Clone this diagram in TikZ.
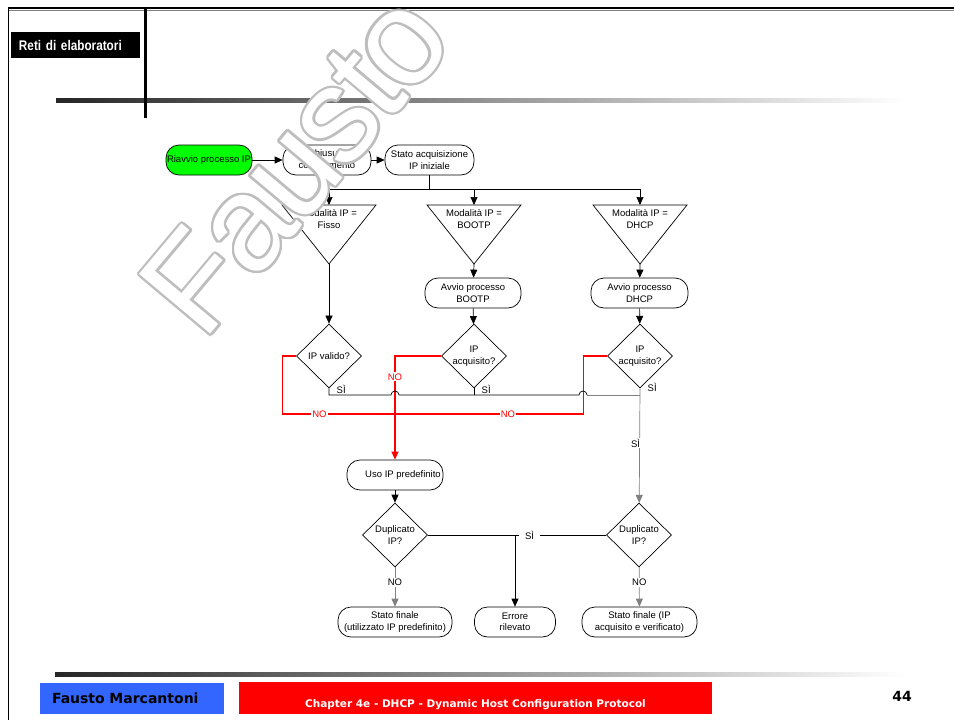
\documentclass[tikz,border=0pt]{standalone}
\usepackage{fontspec}
\setmainfont{Liberation Sans}
\newfontfamily\footfont{DejaVu Sans}
\newfontfamily\narrowfont{Liberation Sans}[FakeStretch=0.84]
\newfontfamily\wmfont{Liberation Sans}[LetterSpace=-3]
\usepackage{xcolor}
\usetikzlibrary{shapes.geometric, arrows.meta, calc}

\definecolor{startgreen}{RGB}{0,255,0}
\definecolor{footblue}{RGB}{51,102,255}
\definecolor{wmgray}{RGB}{190,190,190}

\begin{document}
\begin{tikzpicture}[x=1pt, y=-1pt,
    >={Triangle[length=8pt, width=7pt]},
    every node/.style={font=\fontsize{9.5}{11.5}\selectfont},
    box/.style={rectangle, draw, rounded corners=13pt, minimum height=30pt, align=center, inner sep=1pt, line width=0.7pt},
    dec/.style={diamond, draw, aspect=1, inner sep=0pt, minimum width=65pt, minimum height=64pt, align=center, line width=0.7pt},
    line/.style={line width=0.7pt},
    noline/.style={line width=1.3pt, red},
    lbl/.style={fill=white, inner sep=1pt},
    wm/.style={rotate=50, font=\wmfont\fontsize{135}{135}\selectfont},
]
\useasboundingbox (0,0) rectangle (954,720);
\fill[white] (0,0) rectangle (954,720);

% slide frame
\draw[line width=1pt, gray] (8,10.5) -- (954,10.5);
\draw[line width=2.5pt] (8,8) -- (954,8);
\draw[line width=1.5pt] (8.5,8) -- (8.5,720);
\shade[left color=black!85, right color=white] (56,98) rectangle (905,102);
\draw[line width=3pt] (145,8) -- (145,118);
\node[fill=black, text=white, minimum height=26pt, inner xsep=8pt, text width=113pt, align=left,
      font=\narrowfont\bfseries\fontsize{14}{15}\selectfont] (course) at (75.5,45) {Reti di elaboratori};

% footer
\shade[left color=black!85, right color=white] (55,672) rectangle (905,676);
\node[fill=footblue, minimum height=31pt, inner xsep=12pt, text width=160pt, align=left,
      font=\footfont\bfseries\fontsize{14}{16}\selectfont] (author) at (132,698.5) {Fausto Marcantoni};
\node[fill=red, text=white, minimum width=473pt, minimum height=32pt,
      font=\footfont\bfseries\fontsize{10.5}{12}\selectfont] (chapter) at (475.5,698) {\raisebox{-9.5pt}[0pt][0pt]{Chapter 4e - DHCP - Dynamic Host Configuration Protocol}};
\node[font=\footfont\bfseries\fontsize{14}{16}\selectfont] (pagenum) at (902,696) {44};

% start of the flow
\node[box, fill=startgreen, minimum width=86pt] (restart) at (209,160) {Riavvio processo IP};
\node[box, minimum width=88pt] (close) at (327,160) {Chiusura\\collegamento};
\node[box, minimum width=89pt] (initial) at (429.5,160) {Stato acquisizione\\IP iniziale};
\draw[->, line] (restart) -- (close);
\draw[->, line] (close) -- (initial);

% the three modes
\foreach \n/\x/\t in {fisso/329/Fisso, bootp/474/BOOTP, dhcp/640/DHCP} {
    \coordinate (\n T) at (\x,205);
    \coordinate (\n A) at (\x,264);
    \draw[line] (\x-47,205) -- (\x+47,205) -- (\n A) -- cycle;
    \node[align=center] (\n) at (\x,219) {Modalità IP =\\\t};
}
\draw[line] (initial.south) -- ++(0,14) coordinate (split);
\draw[->, line] (split) -| (fissoT);
\draw[->, line] (split) -| (bootpT);
\draw[->, line] (split) -| (dhcpT);

\node[box, minimum width=96pt] (runbootp) at (473,293) {Avvio processo\\BOOTP};
\node[box, minimum width=97pt] (rundhcp) at (639.5,293) {Avvio processo\\DHCP};
\draw[->, line] (bootpA) -- (runbootp);
\draw[->, line] (dhcpA) -- (rundhcp);

\node[dec] (valid) at (329,356) {IP valido?};
\node[dec] (gotbootp) at (474,356) {IP\\acquisito?};
\node[dec] (gotdhcp) at (640,356) {IP\\acquisito?};
\draw[->, line] (fissoA) -- (valid);
\draw[->, line] (runbootp) -- (gotbootp);
\draw[->, line] (rundhcp) -- (gotdhcp);

\node[box, minimum width=96pt] (uso) at (395,475) {\hspace{16pt}Uso IP predefinito};
\node[dec] (dupuso) at (395,535) {Duplicato\\IP?};
\node[dec] (dupdhcp) at (639,535) {Duplicato\\IP?};

% NO branches
\coordinate (nojoin) at (395,414);
\draw[->, noline] (gotbootp.west) -| node[pos=0.6, lbl, text=red] {NO} (uso);
\draw[noline] (valid.west) -- ++(-14,0) |- node[pos=0.665, lbl, text=red] {NO} (nojoin);
\draw[noline] (gotdhcp.west) -- ++(-24,0) |- node[pos=0.7, lbl, text=red] {NO} (nojoin);

% SI branches
\draw[line] (valid.south) node[anchor=west, xshift=4pt, yshift=-1pt] {SÌ}
    -- (329,395) -- (391,395) arc[start angle=180, end angle=360, radius=4]
    -- (579,395) arc[start angle=180, end angle=360, radius=4] coordinate (jump);
\draw[line] (gotbootp.south) node[anchor=west, xshift=4pt, yshift=-1pt] {SÌ} -- (474,395);
\draw[line, gray] (jump) -- (640,395);
\draw[->, line, gray] (gotdhcp.south) node[anchor=west, xshift=4pt, yshift=1pt, text=black] {SÌ}
    -- node[pos=0.48, lbl, xshift=-4pt, text=black] {SÌ} (dupdhcp);
\draw[->, line] (uso) -- (dupuso);

% results
\node[box, minimum width=114pt] (finaluso) at (395,622) {Stato finale\\(utilizzato IP predefinito)};
\node[box, minimum width=81pt] (error) at (515,622) {Errore\\rilevato};
\node[box, minimum width=115pt] (finaldhcp) at (639.5,622) {Stato finale (IP\\acquisito e verificato)};
\coordinate (errjoin) at (515,535);
\draw[line] (dupuso.east) -- (errjoin);
\draw[line] (dupdhcp.west) -- node[pos=0.84, fill=white, inner xsep=6pt, inner ysep=1pt] {SÌ} (errjoin);
\draw[->, line] (errjoin) -- (error);
\draw[->, line, gray] (dupuso) -- node[pos=0.38, lbl, text=black] {NO} (finaluso);
\draw[->, line, gray] (dupdhcp) -- node[pos=0.38, lbl, text=black] {NO} (finaldhcp);

% watermark
\foreach \a [count=\i] in {0,22.5,...,337.5}
    \node[wm, text=wmgray] (wm\i) at ($(295,163)+(\a:2.4pt)$) {Fausto};
\node[wm, text=white] (watermark) at (295,163) {Fausto};
\end{tikzpicture}
\end{document}
